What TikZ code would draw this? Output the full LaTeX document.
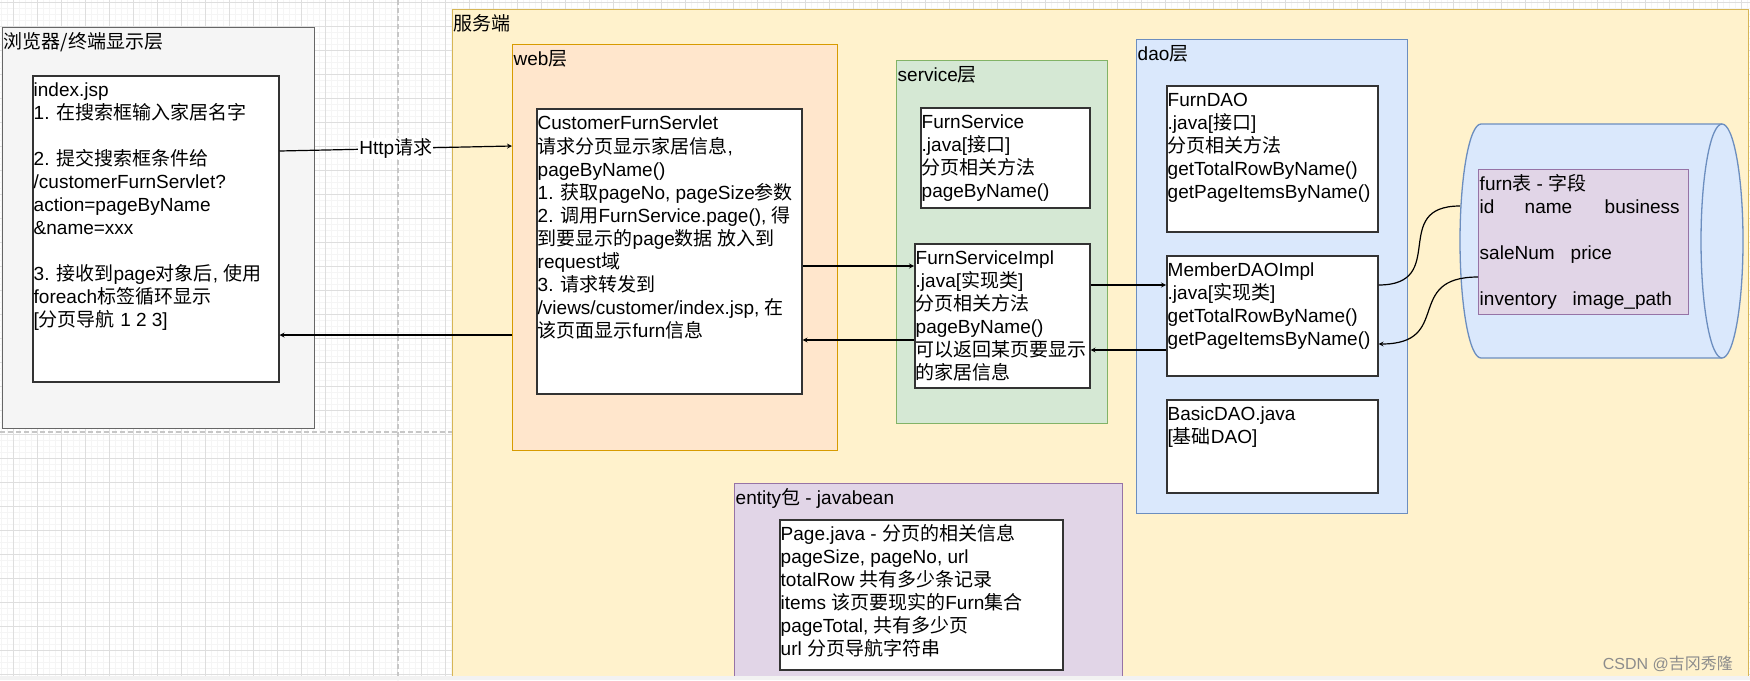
\documentclass[tikz,border=0pt]{standalone}
\usepackage{fontspec}
\setmainfont{Liberation Sans}
\newfontfamily\cjk{Noto Sans CJK SC}
\newcommand\zh[1]{{\cjk #1}}
\usepackage{xcolor}
\usetikzlibrary{arrows}
\definecolor{browserfill}{HTML}{F5F5F5}
\definecolor{browserline}{HTML}{666666}
\definecolor{serverfill}{HTML}{FFF2CC}
\definecolor{serverline}{HTML}{D6B656}
\definecolor{webfill}{HTML}{FFE6CC}
\definecolor{webline}{HTML}{D79B00}
\definecolor{servicefill}{HTML}{D5E8D4}
\definecolor{serviceline}{HTML}{82B366}
\definecolor{daofill}{HTML}{DAE8FC}
\definecolor{daoline}{HTML}{6C8EBF}
\definecolor{beanfill}{HTML}{E1D5E7}
\definecolor{beanline}{HTML}{9673A6}
\tikzset{
    >=stealth, % small heads, like the drawio ones
    layer/.style={draw, line width=1.3pt, inner sep=0pt, anchor=north west}, % coloured frame of a layer
    card/.style={draw=black!80, fill=white, line width=1.5pt, inner sep=0pt, anchor=north west}, % white class box
    txt/.style={anchor=north west, inner xsep=1.5pt, inner ysep=0pt, yshift=-5.5pt, align=left,
        font=\fontsize{19}{23}\selectfont}, % text in the top left corner of a box, first line starts with \strut
    link/.style={->, line width=1.2pt}, % connector
    tag/.style={fill=white, inner sep=1pt, font=\fontsize{19}{23}\selectfont}, % label sitting on a connector
    cyl/.style={draw=daoline, fill=daofill, line width=1.3pt},
}
\begin{document}
\begin{tikzpicture}[x=1pt, y=-1pt]
    \useasboundingbox (0,0) rectangle (1750,680);
    % drawio canvas
    \fill[white] (0,0) rectangle (1750,680);
    \foreach \x in {1.3,7.3,...,1750} \draw[black!4, line width=0.6pt] (\x,0) -- (\x,680);
    \foreach \y in {2.3,8.3,...,680} \draw[black!4, line width=0.6pt] (0,\y) -- (1750,\y);
    \foreach \x in {13.3,37.3,...,1750} \draw[black!13, line width=0.8pt] (\x,0) -- (\x,680);
    \foreach \y in {2.3,26.3,...,680} \draw[black!13, line width=0.8pt] (0,\y) -- (1750,\y);
    \draw[black!22, line width=1.5pt, dash pattern=on 5pt off 3pt] (398,0) -- (398,680) (0,432) -- (452,432);

    % browser
    \node[layer, draw=browserline, fill=browserfill, minimum width=312pt, minimum height=401pt] (browser) at (2,27) {};
    \node[txt] (browser-t) at (browser.north west) {\strut\zh{浏览器/终端显示层}};
    \node[card, minimum width=246pt, minimum height=306pt] (index) at (32,75) {};
    \node[txt] (index-t) at (index.north west) {\strut index.jsp\\
        1. \zh{在搜索框输入家居名字}\\ ~\\
        2. \zh{提交搜索框条件给}\\
        /customerFurnServlet?\\
        action=pageByName\\
        \&name=xxx\\ ~\\
        3. \zh{接收到}page\zh{对象后}, \zh{使用}\\
        foreach\zh{标签循环显示}\\
        {[}\zh{分页导航} 1 2 3]};

    % server
    \node[layer, draw=serverline, fill=serverfill, minimum width=1296pt, minimum height=667pt] (server) at (452,9) {};
    \node[txt] (server-t) at (server.north west) {\strut\zh{服务端}};

    \node[layer, draw=webline, fill=webfill, minimum width=325pt, minimum height=406pt] (web) at (512,44) {};
    \node[txt] (web-t) at (web.north west) {\strut web\zh{层}};
    \node[card, minimum width=265pt, minimum height=285pt] (servlet) at (536,108) {};
    \node[txt] (servlet-t) at (servlet.north west) {\strut CustomerFurnServlet\\
        \zh{请求分页显示家居信息},\\
        pageByName()\\
        1. \zh{获取}pageNo, pageSize\zh{参数}\\
        2. \zh{调用}FurnService.page(), \zh{得}\\
        \zh{到要显示的}page\zh{数据 放入到}\\
        request\zh{域}\\
        3. \zh{请求转发到}\\
        /views/customer/index.jsp, \zh{在}\\
        \zh{该页面显示}furn\zh{信息}};

    \node[layer, draw=serviceline, fill=servicefill, minimum width=211pt, minimum height=363pt] (service) at (896,60) {};
    \node[txt] (service-t) at (service.north west) {\strut service\zh{层}};
    \node[card, minimum width=169pt, minimum height=100pt] (fsvc) at (920,107) {};
    \node[txt] (fsvc-t) at (fsvc.north west) {\strut FurnService\\ .java[\zh{接口}]\\ \zh{分页相关方法}\\ pageByName()};
    \node[card, minimum width=175pt, minimum height=144pt] (fimpl) at (914,243) {};
    \node[txt] (fimpl-t) at (fimpl.north west) {\strut FurnServiceImpl\\ .java[\zh{实现类}]\\ \zh{分页相关方法}\\
        pageByName()\\ \zh{可以返回某页要显示}\\ \zh{的家居信息}};

    \node[layer, draw=daoline, fill=daofill, minimum width=271pt, minimum height=474pt] (dao) at (1136,39) {};
    \node[txt] (dao-t) at (dao.north west) {\strut dao\zh{层}};
    \node[card, minimum width=211pt, minimum height=146pt] (fdao) at (1166,85) {};
    \node[txt] (fdao-t) at (fdao.north west) {\strut FurnDAO\\ .java[\zh{接口}]\\ \zh{分页相关方法}\\
        getTotalRowByName()\\ getPageItemsByName()};
    \node[card, minimum width=211pt, minimum height=120pt] (mdao) at (1166,255) {};
    \node[txt] (mdao-t) at (mdao.north west) {\strut MemberDAOImpl\\ .java[\zh{实现类}]\\
        getTotalRowByName()\\ getPageItemsByName()};
    \node[card, minimum width=211pt, minimum height=93pt] (bdao) at (1166,399) {};
    \node[txt] (bdao-t) at (bdao.north west) {\strut BasicDAO.java\\ {[}\zh{基础}DAO]};

    \node[layer, draw=beanline, fill=beanfill, minimum width=388pt, minimum height=193pt] (entity) at (734,483) {};
    \node[txt] (entity-t) at (entity.north west) {\strut entity\zh{包} - javabean};
    \node[card, minimum width=283pt, minimum height=150pt] (page) at (779,519) {};
    \node[txt] (page-t) at (page.north west) {\strut Page.java - \zh{分页的相关信息}\\
        pageSize, pageNo, url\\
        totalRow \zh{共有多少条记录}\\
        items \zh{该页要现实的}Furn\zh{集合}\\
        pageTotal, \zh{共有多少页}\\
        url \zh{分页导航字符串}};

    % database
    \draw[cyl] (1722,124) -- (1481,124) arc[start angle=90, end angle=270, x radius=21pt, y radius=117pt] -- (1722,358);
    \draw[cyl] (1722,241) ellipse[x radius=21pt, y radius=117pt];
    \coordinate (db) at (1460,206);
    \node[layer, draw=beanline, fill=beanfill, minimum width=210pt, minimum height=145pt] (furn) at (1478,169) {};
    \node[txt] (furn-t) at (furn.north west) {\strut furn\zh{表} - \zh{字段}\\
        \makebox[45pt][l]{id}\makebox[80pt][l]{name}business\\ ~\\
        \makebox[91pt][l]{saleNum}price\\ ~\\
        \makebox[93pt][l]{inventory}image\_path};

    % connectors
    \draw[link] (index.east |- 0,151) -- node[tag] (http) {Http\zh{请求}} (web.west |- 0,146);
    \draw[link] (web.west |- 0,335) -- (index.east |- 0,335);
    \draw[link] (servlet.east |- 0,266) -- (fimpl.west |- 0,266);
    \draw[link] (fimpl.west |- 0,340) -- (servlet.east |- 0,340);
    \draw[link] (fimpl.east |- 0,285) -- (mdao.west |- 0,285);
    \draw[link] (mdao.west |- 0,350) -- (fimpl.east |- 0,350);
    \draw[link, -] (mdao.east |- 0,285) to[out=0, in=180, looseness=1.6] (db);
    \draw[link] (furn.west |- 0,277) to[out=180, in=0, looseness=1.6] (mdao.east |- 0,344);

    \fill[black!5] (0,676) rectangle (1750,680);
    \node[anchor=base east, text=black!45, font=\fontsize{16}{16}\selectfont, inner sep=0pt] (mark) at (1733,669) {CSDN @\zh{吉冈秀隆}};
\end{tikzpicture}
\end{document}
